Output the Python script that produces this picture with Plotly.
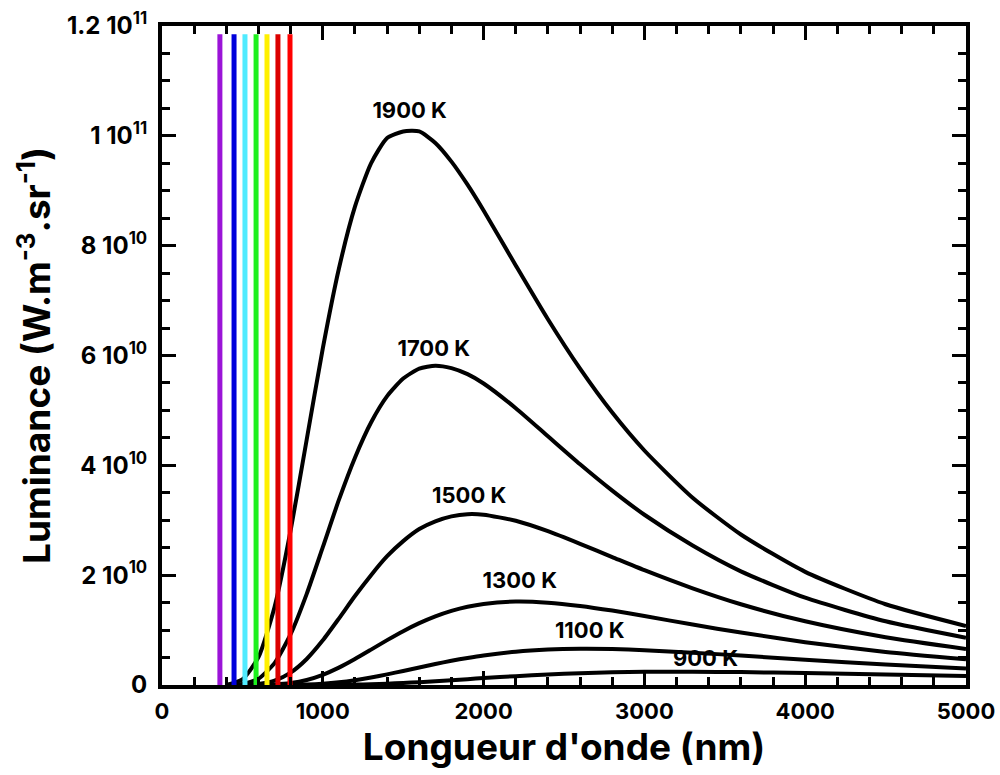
import plotly.graph_objects as go

# wavelengths (nm)
wl = [400, 500, 600, 700, 800, 900, 1000, 1100, 1200, 1300, 1400, 1500, 1600, 1700,
      1800, 1900, 2000, 2200, 2400, 2600, 2800, 3000, 3300, 3600, 4000, 4500, 5000]

# spectral radiance (W.m-3.sr-1)
L1900 = [0.0, 1.01e9, 5.06e9, 1.42e10, 2.815e10, 4.47e10, 6.13e10, 7.58e10, 8.71e10, 9.50e10,
         9.96e10, 1.008e11, 1.008e11, 9.87e10, 9.53e10, 9.11e10, 8.64e10, 7.64e10, 6.66e10,
         5.76e10, 4.96e10, 4.27e10, 3.41e10, 2.74e10, 2.06e10, 1.47e10, 1.074e10]
L1700 = [0.0, 1.7e8, 1.15e9, 3.98e9, 9.25e9, 1.66e10, 2.51e10, 3.37e10, 4.14e10, 4.78e10,
         5.26e10, 5.58e10, 5.76e10, 5.815e10, 5.77e10, 5.66e10, 5.49e10, 5.04e10, 4.53e10,
         4.02e10, 3.54e10, 3.10e10, 2.54e10, 2.07e10, 1.59e10, 1.16e10, 8.6e9]
L1500 = [0.0, 1.8e7, 1.75e8, 7.9e8, 2.26e9, 4.74e9, 8.13e9, 1.21e10, 1.62e10, 2.00e10,
         2.345e10, 2.62e10, 2.84e10, 2.98e10, 3.07e10, 3.11e10, 3.10e10, 2.99e10, 2.80e10,
         2.57e10, 2.33e10, 2.09e10, 1.76e10, 1.47e10, 1.16e10, 8.7e9, 6.56e9]
L1300 = [0.0, 1e6, 1.5e7, 9.6e7, 3.57e8, 9.2e8, 1.86e9, 3.16e9, 4.73e9, 6.44e9,
         8.17e9, 9.80e9, 1.126e10, 1.25e10, 1.35e10, 1.425e10, 1.476e10, 1.52e10, 1.50e10,
         1.44e10, 1.355e10, 1.256e10, 1.10e10, 9.55e9, 7.80e9, 6.03e9, 4.68e9]
L1100 = [0.0, 0.0, 5e5, 5.4e6, 2.9e7, 9.8e7, 2.49e8, 5.07e8, 8.83e8, 1.37e9,
         1.94e9, 2.56e9, 3.20e9, 3.82e9, 4.41e9, 4.93e9, 5.39e9, 6.07e9, 6.45e9,
         6.59e9, 6.54e9, 6.34e9, 5.89e9, 5.35e9, 4.60e9, 3.73e9, 3.0e9]
L900 = [0.0, 0.0, 0.0, 0.0, 7.6e5, 3.9e6, 1.36e7, 3.6e7, 7.8e7, 1.46e8,
        2.43e8, 3.69e8, 5.2e8, 6.9e8, 8.76e8, 1.067e9, 1.257e9, 1.615e9, 1.917e9,
        2.146e9, 2.30e9, 2.39e9, 2.41e9, 2.35e9, 2.18e9, 1.90e9, 1.62e9]

series = [("1900 K", L1900), ("1700 K", L1700), ("1500 K", L1500),
          ("1300 K", L1300), ("1100 K", L1100), ("900 K", L900)]

# curve labels (x in nm, y in W.m-3.sr-1)
label_text = ["1900 K", "1700 K", "1500 K", "1300 K", "1100 K", "900 K"]
label_x = [1540, 1690, 1910, 2225, 2660, 3380]
label_y = [1.042e11, 6.10e10, 3.42e10, 1.86e10, 9.65e9, 4.4e9]

# visible spectrum markers
vis_wl = [360, 448, 516, 585, 653, 721, 796]
vis_colors = ["#9B14D8", "#0000DC", "#50EBFF", "#1EF01E", "#FFF000", "#DC0000", "#FF0000"]
vis_top = 1.185e11

y_ticks = [0, 2e10, 4e10, 6e10, 8e10, 1e11, 1.2e11]
y_ticktext = ["0", "2 10<sup>10</sup>", "4 10<sup>10</sup>", "6 10<sup>10</sup>",
              "8 10<sup>10</sup>", "1 10<sup>11</sup>", "1.2 10<sup>11</sup>"]
x_ticks = [0, 1000, 2000, 3000, 4000, 5000]

FONT = "Inter, Liberation Sans, Arial, sans-serif"

fig = go.Figure()
for name, vals in series:
    fig.add_trace(go.Scatter(x=wl, y=vals, mode="lines", name=name,
                             line=dict(color="black", width=4, shape="spline", smoothing=0.6),
                             showlegend=False))
for w, c in zip(vis_wl, vis_colors):
    fig.add_trace(go.Scatter(x=[w, w], y=[0, vis_top], mode="lines",
                             line=dict(color=c, width=5), showlegend=False))

fig.add_trace(go.Scatter(x=label_x, y=label_y, mode="text", text=label_text,
                         textfont=dict(family=FONT, size=22, color="black", weight="bold"),
                         textposition="middle center", showlegend=False))

fig.update_layout(
    width=1000, height=775,
    margin=dict(l=162, r=34, t=26, b=90),
    paper_bgcolor="white", plot_bgcolor="white",
    font=dict(family=FONT, color="black"),
    xaxis=dict(range=[0, 5000], tickvals=x_ticks, showgrid=False, zeroline=False,
               automargin=False,
               showline=True, linewidth=4, linecolor="black", mirror="ticks",
               ticks="inside", ticklen=14, tickwidth=3, tickcolor="black",
               minor=dict(ticks="inside", ticklen=8, tickwidth=3, dtick=200, tickcolor="black"),
               tickfont=dict(family=FONT, size=22, color="black", weight="bold"),
               ticklabelstandoff=4,
               title=dict(text="Longueur d'onde (nm)",
                          font=dict(family=FONT, size=37, color="black", weight="bold"),
                          standoff=2)),
    yaxis=dict(range=[0, 1.2e11], tickvals=y_ticks, ticktext=y_ticktext, showgrid=False,
               zeroline=False, automargin=False,
               showline=True, linewidth=4, linecolor="black", mirror="ticks",
               ticks="inside", ticklen=14, tickwidth=3, tickcolor="black",
               minor=dict(ticks="inside", ticklen=8, tickwidth=3, dtick=5e9, tickcolor="black"),
               tickfont=dict(family=FONT, size=24, color="black", weight="bold"),
               ticklabelstandoff=6,
               title=dict(text="Luminance (W.m<sup>-3</sup>.sr<sup>-1</sup>)",
                          font=dict(family=FONT, size=37, color="black", weight="bold"),
                          standoff=6)),
)

fig.write_html("out.html")
